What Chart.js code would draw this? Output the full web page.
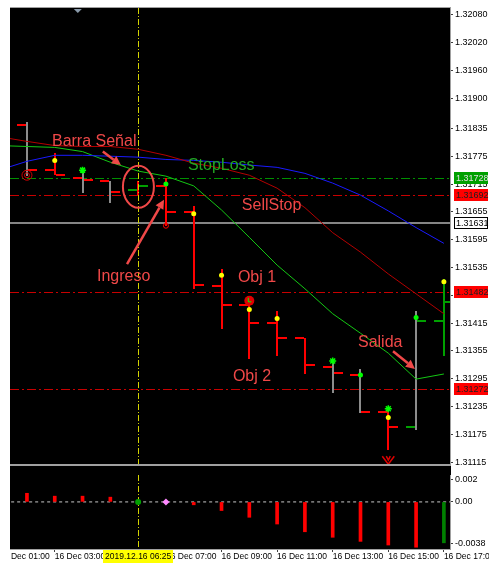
<!DOCTYPE html>
<html>
<head>
<meta charset="utf-8">
<script src="https://cdn.jsdelivr.net/npm/chart.js@4.4.1/dist/chart.umd.min.js"></script>
<style>
  html, body { margin: 0; padding: 0; background: #fff; }
  body { width: 489px; height: 563px; position: relative; overflow: hidden; }
  #frame { position: absolute; left: 10px; top: 7px; width: 441px; height: 543px; background: #000; border-top: 1px solid #a0a0a0; box-sizing: border-box; }
  #price { position: absolute; left: 0; top: 0; }
  #osc { position: absolute; left: 0; top: 471px; }
</style>
</head>
<body>
<div id="frame"></div>
<canvas id="price" width="489" height="471"></canvas>
<canvas id="osc" width="489" height="92"></canvas>
<script>
// H1 bars, 16 Dec 2019, 02:00 .. 17:00 (x = bar index)
const hours  = ['02:00','03:00','04:00','05:00','06:00','07:00','08:00','09:00','10:00','11:00','12:00','13:00','14:00','15:00','16:00','17:00'];
const opens  = [1.31843,1.31745,1.31728,1.31721,1.31702,1.31711,1.31655,1.31495,1.31454,1.31414,1.31382,1.31320,1.31303,1.31222,1.31190,1.31420];
const highs  = [1.31849,1.31783,1.31745,1.31721,1.31721,1.31728,1.31668,1.31531,1.31465,1.31442,1.31382,1.31333,1.31316,1.31230,1.31442,1.31510];
const lows   = [1.31732,1.31734,1.31696,1.31674,1.31691,1.31625,1.31489,1.31403,1.31337,1.31343,1.31305,1.31264,1.31220,1.31141,1.31185,1.31343];
const closes = [1.31745,1.31734,1.31723,1.31698,1.31711,1.31655,1.31497,1.31454,1.31416,1.31382,1.31324,1.31307,1.31224,1.31190,1.31420,1.31460];
const wickColors = ['#8c8c8c','#ff0000','#8c8c8c','#8c8c8c','#ff0000','#ff0000','#ff0000','#ff0000','#ff0000','#ff0000','#ff0000','#8c8c8c','#8c8c8c','#ff0000','#8c8c8c','#00a000'];
const tickColors = ['#ff0000','#ff0000','#ff0000','#ff0000','#00a000','#ff0000','#ff0000','#ff0000','#ff0000','#ff0000','#ff0000','#ff0000','#ff0000','#ff0000','#00a000','#00a000'];

// moving averages (start one bar before the first visible bar)
const maIndex = [-1,0,1,2,3,4,5,6,7,8,9,10,11,12,13,14,15];
const maBlue  = [1.31745,1.31764,1.31777,1.31777,1.31775,1.31773,1.31768,1.31766,1.31762,1.31756,1.31751,1.31738,1.31717,1.31691,1.31657,1.31621,1.31587];
const maRed   = [1.31817,1.31807,1.31798,1.31796,1.31796,1.31790,1.31777,1.31760,1.31749,1.31734,1.31706,1.31664,1.31610,1.31568,1.31521,1.31478,1.31435];
const maGreen = [1.31798,1.31796,1.31794,1.31785,1.31762,1.31743,1.31732,1.31711,1.31659,1.31600,1.31540,1.31489,1.31435,1.31393,1.31350,1.31294,1.31305];

// signal markers
const yellowIdx = [1,6,7,8,9,13,15];
const yellowPrice = [1.31766,1.31651,1.31518,1.31444,1.31425,1.31211,1.31504];
const greenDotIdx = [5,12,14];
const greenDotPrice = [1.31715,1.31303,1.31427];
const starIdx = [2,11,13];
const starPrice = [1.31745,1.31333,1.31230];
const targetIdx = [0];
const targetPrice = [1.31734];
const ringIdx = [5];
const ringPrice = [1.31625];
const alarmIdx = [8];
const alarmPrice = [1.31463];
const downIdx = [13];
const downPrice = [1.31119];

// horizontal levels
const stopLoss = 1.31728;
const redLevels = [1.31692, 1.31482, 1.31272];
const bidPrice = 1.31631;

const priceTicks = [1.32080,1.32020,1.31960,1.31900,1.31835,1.31775,1.31715,1.31655,1.31595,1.31535,1.31475,1.31415,1.31355,1.31295,1.31235,1.31175,1.31115];

// oscillator sub window
const oscValues = [0.00078,0.00052,0.00052,0.00043,0,0,-0.00026,-0.00078,-0.00139,-0.0020,-0.0027,-0.0032,-0.00357,-0.0039,-0.0041,-0.0037];
const oscColors = ['#ff0000','#ff0000','#ff0000','#ff0000','#ff0000','#ff0000','#ff0000','#ff0000','#ff0000','#ff0000','#ff0000','#ff0000','#ff0000','#ff0000','#ff0000','#008000'];
const oscGreenIdx = [4];
const oscPinkIdx = [5];
const oscTicks = [0.002, 0, -0.0038];
const oscTickLabels = ['0.002', '0.00', '-0.0038'];

// time axis
const timeTicks = [-1,1,3,5,7,9,11,13,15];
const timeLabels = ['16 Dec 01:00','16 Dec 03:00','16 Dec 05:00','16 Dec 07:00','16 Dec 09:00','16 Dec 11:00','16 Dec 13:00','16 Dec 15:00','16 Dec 17:00'];
const cursorIdx = 4;
const cursorLabel = '2019.12.16 06:25';
const shiftIdx = 1.83;

// annotations drawn on the chart (bar index, price)
const notes = [
  {text: 'Barra Señal', x: 0.90, p: 1.31796, green: false},
  {text: 'StopLoss',    x: 5.79, p: 1.31745, green: true},
  {text: 'SellStop',    x: 7.73, p: 1.31660, green: false},
  {text: 'Ingreso',     x: 2.52, p: 1.31506, green: false},
  {text: 'Obj 1',       x: 7.59, p: 1.31504, green: false},
  {text: 'Obj 2',       x: 7.41, p: 1.31290, green: false},
  {text: 'Salida',      x: 11.91, p: 1.31363, green: false}
];
const arrows = [
  [2.73, 1.31785, 3.38, 1.31756],
  [3.60, 1.31542, 4.93, 1.31681],
  [13.17, 1.31354, 13.96, 1.31316]
];
const circleAt = [4.01, 1.31709];

const X_MIN = -0.61, X_MAX = 15.22;
const NOTE_RED = '#f04848';
const NOTE_GREEN = '#22a822';
const AXIS_TEXT = '#000000';

Chart.defaults.font.family = '"Liberation Sans", Arial, sans-serif';

function pts(xs, ys) {
  return xs.map((x, i) => ({x: x, y: ys[i]}));
}

function cursorLine(chart) {
  const ctx = chart.ctx, a = chart.chartArea;
  const x = Math.round(chart.scales.x.getPixelForValue(cursorIdx)) + 0.5;
  ctx.save();
  ctx.strokeStyle = '#d4d400';
  ctx.lineWidth = 1;
  ctx.setLineDash([6, 2, 1, 2]);
  ctx.beginPath();
  ctx.moveTo(x, a.top);
  ctx.lineTo(x, a.bottom);
  ctx.stroke();
  ctx.restore();
}

function arrow(ctx, x1, y1, x2, y2) {
  const a = Math.atan2(y2 - y1, x2 - x1);
  const L = 9, W = 4.5;
  const bx = x2 - L * Math.cos(a), by = y2 - L * Math.sin(a);
  ctx.beginPath();
  ctx.moveTo(x1, y1);
  ctx.lineTo(bx, by);
  ctx.stroke();
  ctx.beginPath();
  ctx.moveTo(x2, y2);
  ctx.lineTo(bx + W * Math.sin(a), by - W * Math.cos(a));
  ctx.lineTo(bx - W * Math.sin(a), by + W * Math.cos(a));
  ctx.closePath();
  ctx.fill();
}

const pricePlugin = {
  id: 'pricePlugin',
  beforeDatasetsDraw(chart) {
    const ctx = chart.ctx, a = chart.chartArea;
    const xs = chart.scales.x, ys = chart.scales.y;
    ctx.save();
    ctx.beginPath();
    ctx.rect(a.left, a.top, a.right - a.left, a.bottom - a.top);
    ctx.clip();

    // levels
    ctx.lineWidth = 1;
    ctx.setLineDash([9, 3, 2, 3]);
    const lv = (p, c) => {
      const y = Math.round(ys.getPixelForValue(p)) + 0.5;
      ctx.strokeStyle = c;
      ctx.beginPath(); ctx.moveTo(a.left, y); ctx.lineTo(a.right, y); ctx.stroke();
    };
    lv(stopLoss, '#009000');
    redLevels.forEach(p => lv(p, '#c80000'));
    ctx.setLineDash([]);
    ctx.lineWidth = 2;
    ctx.strokeStyle = '#858585';
    const yb = Math.round(ys.getPixelForValue(bidPrice));
    ctx.beginPath(); ctx.moveTo(a.left, yb); ctx.lineTo(a.right, yb); ctx.stroke();

    // OHLC bars
    ctx.lineWidth = 2;
    for (let i = 0; i < opens.length; i++) {
      const x = Math.round(xs.getPixelForValue(i));
      const yo = Math.round(ys.getPixelForValue(opens[i]));
      const yh = Math.round(ys.getPixelForValue(highs[i]));
      const yl = Math.round(ys.getPixelForValue(lows[i]));
      const yc = Math.round(ys.getPixelForValue(closes[i]));
      ctx.strokeStyle = wickColors[i];
      ctx.beginPath(); ctx.moveTo(x, yh); ctx.lineTo(x, yl); ctx.stroke();
      ctx.strokeStyle = tickColors[i];
      ctx.beginPath();
      ctx.moveTo(x - 10, yo); ctx.lineTo(x - 1, yo);
      ctx.moveTo(x + 1, yc); ctx.lineTo(x + 10, yc);
      ctx.stroke();
    }
    ctx.restore();
    cursorLine(chart);
  },
  afterDatasetsDraw(chart) {
    const ctx = chart.ctx, a = chart.chartArea;
    const xs = chart.scales.x, ys = chart.scales.y;
    ctx.save();

    // alarm icon and sell arrow
    alarmIdx.forEach((ix, i) => {
      const x = xs.getPixelForValue(ix), y = ys.getPixelForValue(alarmPrice[i]);
      ctx.fillStyle = '#e00000';
      ctx.beginPath(); ctx.arc(x, y, 5, 0, Math.PI * 2); ctx.fill();
      ctx.strokeStyle = '#00ff00'; ctx.lineWidth = 1;
      ctx.beginPath(); ctx.moveTo(x - 1, y - 3); ctx.lineTo(x - 1, y + 1); ctx.lineTo(x + 2, y + 1); ctx.stroke();
    });
    downIdx.forEach((ix, i) => {
      const x = xs.getPixelForValue(ix), y = ys.getPixelForValue(downPrice[i]);
      ctx.strokeStyle = '#e00000'; ctx.lineWidth = 1.5;
      ctx.beginPath();
      ctx.moveTo(x - 6, y - 4); ctx.lineTo(x, y + 4); ctx.lineTo(x + 6, y - 4);
      ctx.moveTo(x - 2, y - 4); ctx.lineTo(x, y); ctx.lineTo(x + 2, y - 4);
      ctx.stroke();
    });

    // chart shift marker
    const sx = xs.getPixelForValue(shiftIdx);
    ctx.fillStyle = '#8a9aaa';
    ctx.beginPath(); ctx.moveTo(sx - 4, a.top + 1); ctx.lineTo(sx + 4, a.top + 1); ctx.lineTo(sx, a.top + 5); ctx.closePath(); ctx.fill();

    // notes
    ctx.font = '16px "Liberation Sans", Arial, sans-serif';
    ctx.textBaseline = 'alphabetic';
    ctx.textAlign = 'left';
    notes.forEach(n => {
      ctx.fillStyle = n.green ? NOTE_GREEN : NOTE_RED;
      ctx.fillText(n.text, xs.getPixelForValue(n.x), ys.getPixelForValue(n.p));
    });
    ctx.strokeStyle = NOTE_RED;
    ctx.fillStyle = NOTE_RED;
    ctx.lineWidth = 2.5;
    arrows.forEach(r => arrow(ctx, xs.getPixelForValue(r[0]), ys.getPixelForValue(r[1]), xs.getPixelForValue(r[2]), ys.getPixelForValue(r[3])));
    ctx.lineWidth = 2;
    ctx.beginPath();
    ctx.ellipse(xs.getPixelForValue(circleAt[0]), ys.getPixelForValue(circleAt[1]), 15.5, 21, 0, 0, Math.PI * 2);
    ctx.stroke();

    // separator under price window
    ctx.strokeStyle = '#a0a0a0';
    ctx.lineWidth = 2;
    ctx.beginPath(); ctx.moveTo(a.left, a.bottom); ctx.lineTo(a.right, a.bottom); ctx.stroke();
    ctx.restore();
  },
  afterDraw(chart) {
    const ctx = chart.ctx, a = chart.chartArea, ys = chart.scales.y;
    const boxes = [{p: stopLoss, bg: '#00a000', fg: '#e0e0e0'}]
      .concat([{p: redLevels[0], bg: '#ff0000', fg: '#202020'}])
      .concat([{p: bidPrice, bg: '#ffffff', fg: '#000000'}])
      .concat(redLevels.slice(1).map(p => ({p: p, bg: '#ff0000', fg: '#202020'})));
    ctx.save();
    ctx.font = '9px "Liberation Sans", Arial, sans-serif';
    ctx.textBaseline = 'middle';
    ctx.textAlign = 'left';
    boxes.forEach(b => {
      const y = Math.round(ys.getPixelForValue(b.p));
      ctx.fillStyle = b.bg;
      ctx.fillRect(a.right + 4, y - 6, 34, 12);
      if (b.bg === '#ffffff') {
        ctx.strokeStyle = '#000'; ctx.lineWidth = 1;
        ctx.strokeRect(a.right + 4.5, y - 5.5, 33, 11);
      }
      ctx.fillStyle = b.fg;
      ctx.fillText(b.p.toFixed(5), a.right + 6, y + 0.5);
    });
    ctx.restore();
  }
};

new Chart('price', {
  type: 'line',
  data: {
    datasets: [
      {data: pts(maIndex, maRed), borderColor: '#b40000', borderWidth: 1, pointRadius: 0},
      {data: pts(maIndex, maBlue), borderColor: '#1a1aff', borderWidth: 1, pointRadius: 0},
      {data: pts(maIndex, maGreen), borderColor: '#14c814', borderWidth: 1, pointRadius: 0},
      {data: pts(yellowIdx, yellowPrice), showLine: false, pointRadius: 2.5, pointBackgroundColor: '#ffff00', pointBorderWidth: 0},
      {data: pts(greenDotIdx, greenDotPrice), showLine: false, pointRadius: 2.5, pointBackgroundColor: '#00ff00', pointBorderWidth: 0},
      {data: pts(starIdx, starPrice), showLine: false, pointStyle: 'star', pointRadius: 3.5, pointBorderColor: '#00ff00', pointBorderWidth: 1.5},
      {data: pts(targetIdx, targetPrice), showLine: false, pointRadius: 5, pointBackgroundColor: 'transparent', pointBorderColor: '#d00000', pointBorderWidth: 1},
      {data: pts(targetIdx, targetPrice), showLine: false, pointRadius: 2.5, pointBackgroundColor: 'transparent', pointBorderColor: '#d00000', pointBorderWidth: 1},
      {data: pts(ringIdx, ringPrice), showLine: false, pointRadius: 2.5, pointBackgroundColor: 'transparent', pointBorderColor: '#ff0000', pointBorderWidth: 1}
    ]
  },
  options: {
    responsive: false,
    animation: false,
    events: [],
    layout: {padding: {left: 10, top: 8, right: 0, bottom: 1}},
    plugins: {legend: {display: false}, tooltip: {enabled: false}},
    scales: {
      x: {type: 'linear', min: X_MIN, max: X_MAX, display: false},
      y: {
        type: 'linear',
        position: 'right',
        min: 1.311086,
        max: 1.320949,
        afterBuildTicks: s => { s.ticks = priceTicks.map(v => ({value: v})); },
        afterFit: s => { s.width = 39; s.paddingTop = 0; s.paddingBottom = 0; },
        ticks: {
          color: AXIS_TEXT,
          autoSkip: false,
          padding: 2,
          font: {size: 9},
          callback: v => v.toFixed(5)
        },
        grid: {drawOnChartArea: false, tickLength: 3, color: '#404040'},
        border: {color: '#a0a0a0'}
      }
    }
  },
  plugins: [pricePlugin]
});

const oscPlugin = {
  id: 'oscPlugin',
  beforeDatasetsDraw(chart) {
    cursorLine(chart);
  },
  afterDraw(chart) {
    const ctx = chart.ctx, a = chart.chartArea;
    const x = chart.scales.x.getPixelForValue(cursorIdx);
    ctx.save();
    ctx.font = '8.5px "Liberation Sans", Arial, sans-serif';
    const w = ctx.measureText(cursorLabel).width + 4;
    ctx.fillStyle = '#ffff00';
    ctx.fillRect(Math.round(x - w / 2), a.bottom + 1, Math.round(w), 13);
    ctx.fillStyle = '#000';
    ctx.textAlign = 'center';
    ctx.textBaseline = 'middle';
    ctx.fillText(cursorLabel, x, a.bottom + 8);
    // cut labels at the window's left edge
    ctx.fillStyle = '#fff';
    ctx.fillRect(0, 0, a.left, chart.height);
    ctx.restore();
  }
};

new Chart('osc', {
  type: 'line',
  data: {
    datasets: [
      {type: 'line', data: [{x: -1, y: 0}, {x: 16, y: 0}], borderColor: '#c8c8c8', borderWidth: 1, borderDash: [3, 3], pointRadius: 0, order: 2},
      {type: 'bar', data: pts(hours.map((h, i) => i), oscValues), backgroundColor: oscColors, barThickness: 3, order: 1},
      {type: 'line', data: oscGreenIdx.map(i => ({x: i, y: 0})), showLine: false, pointRadius: 3, pointBackgroundColor: '#00a000', pointBorderWidth: 0, order: 0},
      {type: 'line', data: oscPinkIdx.map(i => ({x: i, y: 0})), showLine: false, pointStyle: 'rectRot', pointRadius: 3.5, pointBackgroundColor: '#ff88ff', pointBorderWidth: 0, order: 0}
    ]
  },
  options: {
    responsive: false,
    animation: false,
    events: [],
    layout: {padding: {left: 10, top: 1, right: 0, bottom: 0}},
    plugins: {legend: {display: false}, tooltip: {enabled: false}},
    scales: {
      x: {
        type: 'linear',
        min: X_MIN,
        max: X_MAX,
        offset: false,
        afterBuildTicks: s => { s.ticks = timeTicks.map(v => ({value: v})); },
        afterFit: s => { s.height = 14; s.paddingLeft = 0; s.paddingRight = 0; },
        ticks: {
          color: AXIS_TEXT,
          autoSkip: false,
          maxRotation: 0,
          minRotation: 0,
          align: 'start',
          padding: 0,
          font: {size: 8.5},
          callback: (v, i) => timeLabels[i]
        },
        grid: {drawOnChartArea: false, offset: false, tickLength: 3, color: '#404040'},
        border: {color: '#a0a0a0'}
      },
      y: {
        type: 'linear',
        position: 'right',
        min: -0.00426,
        max: 0.002435,
        afterBuildTicks: s => { s.ticks = oscTicks.map(v => ({value: v})); },
        afterFit: s => { s.width = 39; s.paddingTop = 0; s.paddingBottom = 0; },
        ticks: {
          color: AXIS_TEXT,
          autoSkip: false,
          padding: 2,
          font: {size: 9},
          callback: (v, i) => oscTickLabels[i]
        },
        grid: {drawOnChartArea: false, tickLength: 3, color: '#404040'},
        border: {color: '#a0a0a0'}
      }
    }
  },
  plugins: [oscPlugin]
});
</script>
</body>
</html>
